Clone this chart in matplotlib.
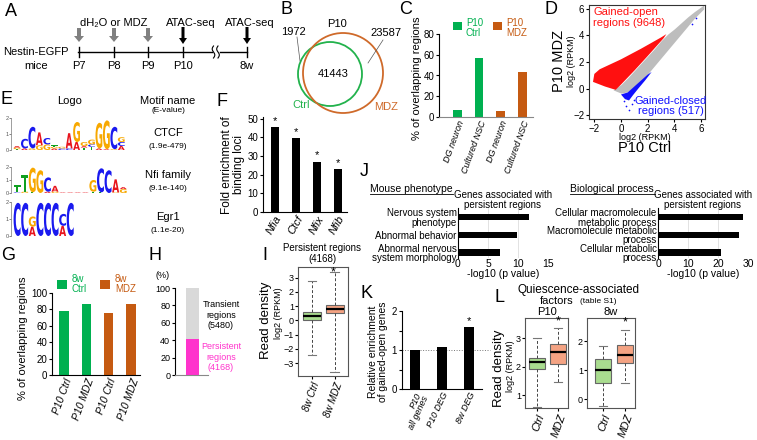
import numpy as np
import matplotlib
matplotlib.use('Agg')
import matplotlib.pyplot as plt
import matplotlib.transforms as mtransforms
from matplotlib.patches import Circle, FancyArrow, PathPatch
from matplotlib.textpath import TextPath
from matplotlib.font_manager import FontProperties

plt.rcParams['font.family'] = ['Liberation Sans', 'DejaVu Sans']
plt.rcParams['font.size'] = 7
plt.rcParams['axes.linewidth'] = 0.8
plt.rcParams['xtick.major.size'] = 2
plt.rcParams['ytick.major.size'] = 2
plt.rcParams['xtick.major.pad'] = 1.5
plt.rcParams['ytick.major.pad'] = 1.5
plt.rcParams['xtick.labelsize'] = 7
plt.rcParams['ytick.labelsize'] = 7

W, H = 757, 440
GREEN = '#00b050'
ORANGE = '#c55a11'
VENN_GREEN = '#22b24c'
VENN_ORANGE = '#cf6a2a'
BOX_GREEN = '#a9dc8f'
BOX_SALMON = '#f4a383'
MAGENTA = '#ff33cc'
LOGO_COLORS = {'A': '#e8141d', 'C': '#1a1aef', 'G': '#f7a800', 'T': '#10a020'}

# ---- data ----
timeline_days = ['P7', 'P8', 'P9', 'P10']

venn_ctrl_only = '1972'
venn_shared = '41443'
venn_mdz_only = '23587'

c_labels = ['DG neuron', 'Cultured NSC', 'DG neuron', 'Cultured NSC']
c_values = [7, 57, 6, 43]

# outlines of the point clouds in D (log2 RPKM)
d_grey_x = [-0.6, 0, 0.5, 1, 1.5, 2, 2.5, 3, 3.5, 4, 4.5, 5, 5.5, 6.2]
d_grey_lo = [-0.1, -0.35, -0.25, 0.15, 0.6, 1.1, 1.7, 2.3, 2.9, 3.5, 4.1, 4.7, 5.3, 6.0]
d_grey_hi = [-0.1, 0.3, 0.8, 1.35, 1.9, 2.45, 3.0, 3.6, 4.1, 4.5, 4.95, 5.4, 5.8, 6.3]
d_red_x = [-2.1, -2.0, -1.6, 0.0, 1.5, 3.0, 3.4, 3.2, 2.0, 1.0, 0.0, -0.4, -1.2]
d_red_y = [0.5, 1.1, 1.45, 2.2, 3.0, 3.85, 4.1, 3.8, 2.45, 1.35, 0.3, -0.1, 0.15]
d_blue_x = [0.0, 0.5, 1.0, 1.5, 2.0, 2.3, 1.8, 1.3, 0.9, 0.6, 0.3]
d_blue_y = [-0.45, -0.3, 0.15, 0.6, 1.05, 1.25, 0.6, 0.0, -0.5, -0.9, -0.8]
d_blue_pts_x = [0.4, 0.6, 0.25, 1.0, 0.8, 5.3, 5.6]
d_blue_pts_y = [-1.3, -1.6, -0.95, -0.9, -1.2, 4.9, 5.3]

motif_names = ['CTCF', 'Nfi family', 'Egr1']
motif_evalues = ['(1.9e-479)', '(9.1e-140)', '(1.1e-20)']
logo_ctcf = [
    [('T', 0.05), ('G', 0.1), ('A', 0.1)],
    [('A', 0.1), ('C', 0.6)],
    [('G', 0.1), ('C', 1.35)],
    [('G', 0.3), ('A', 0.8)],
    [('G', 0.35), ('C', 0.4)],
    [('A', 0.1), ('G', 0.1), ('T', 0.1)],
    [('C', 0.1), ('G', 0.1)],
    [('C', 0.1), ('A', 0.95)],
    [('A', 0.5), ('G', 1.25)],
    [('T', 0.15), ('A', 0.1), ('G', 0.25)],
    [('T', 0.2), ('C', 0.15), ('G', 0.3)],
    [('A', 0.1), ('G', 1.6)],
    [('A', 0.05), ('G', 1.8)],
    [('G', 0.05), ('C', 1.4)],
    [('A', 0.25), ('C', 0.25), ('G', 0.3)],
]
logo_nfi = [
    [('C', 0.05), ('T', 0.55)],
    [('G', 0.1), ('T', 1.3)],
    [('T', 0.05), ('G', 1.9)],
    [('G', 1.75)],
    [('A', 0.1), ('C', 1.1)],
    [('G', 0.1), ('A', 0.45)],
    [('A', 0.04)],
    [('A', 0.04)],
    [('A', 0.04)],
    [('A', 0.04)],
    [('T', 0.1), ('G', 0.9)],
    [('T', 0.05), ('C', 1.85)],
    [('C', 1.75)],
    [('G', 0.05), ('A', 1.0)],
    [('G', 0.3), ('A', 0.15)],
]
logo_egr1 = [
    [('C', 1.95)],
    [('C', 1.95)],
    [('A', 0.55), ('G', 0.6)],
    [('C', 1.95)],
    [('C', 1.95)],
    [('C', 1.95)],
    [('A', 0.6), ('C', 0.7)],
    [('C', 1.95)],
]

f_genes = ['Nfia', 'Ctcf', 'Nfix', 'Nfib']
f_values = [45.5, 39.5, 27, 23]

g_labels = ['P10 Ctrl', 'P10 MDZ', 'P10 Ctrl', 'P10 MDZ']
g_values = [78, 86, 76, 86]

h_persistent_pct = 41
h_transient_pct = 59

# box stats: whislo, q1, med, q3, whishi
i_labels = ['8w Ctrl', '8w MDZ']
i_ctrl = [-2.4, 0.0, 0.3, 0.6, 2.75]
i_mdz = [-3.6, 0.55, 0.8, 1.05, 3.4]

j1_terms = ['Nervous system\nphenotype', 'Abnormal behavior', 'Abnormal nervous\nsystem morphology']
j1_values = [11.8, 9.9, 7.0]
j2_terms = ['Cellular macromolecule\nmetabolic process', 'Macromolecule metabolic\nprocess',
            'Cellular metabolic\nprocess']
j2_values = [28.5, 27.0, 21.0]

k_labels = ['P10\nall genes', 'P10 DEG', '8w DEG']
k_values = [1.0, 1.08, 1.58]

l_labels = ['Ctrl', 'MDZ']
l_p10_ctrl = [0.6, 1.9, 2.15, 2.3, 3.0]
l_p10_mdz = [1.45, 2.1, 2.5, 2.8, 3.35]
l_8w_ctrl = [-0.22, 0.55, 1.0, 1.38, 1.85]
l_8w_mdz = [0.57, 1.25, 1.52, 1.88, 2.4]

fig = plt.figure(figsize=(W / 100, H / 100), dpi=100)


def px_axes(x0, y0, x1, y1):
    ax = fig.add_axes([x0 / W, 1 - y1 / H, (x1 - x0) / W, (y1 - y0) / H])
    ax.patch.set_visible(False)
    return ax


def lb_spines(ax):
    ax.spines['top'].set_visible(False)
    ax.spines['right'].set_visible(False)


def box_stats(vals, label):
    lo, q1, med, q3, hi = vals
    return dict(whislo=lo, q1=q1, med=med, q3=q3, whishi=hi, label=label)


def draw_boxes(ax, stats, pos, width):
    res = ax.bxp(stats, positions=pos, widths=width, patch_artist=True, showfliers=False,
                 boxprops=dict(edgecolor='#666666', linewidth=0.8),
                 whiskerprops=dict(color='#444444', linestyle=(0, (3, 2)), linewidth=0.7),
                 capprops=dict(color='#777777', linewidth=0.8),
                 medianprops=dict(color='black', linewidth=1.6))
    for patch, col in zip(res['boxes'], [BOX_GREEN, BOX_SALMON]):
        patch.set_facecolor(col)
    for sp in ax.spines.values():
        sp.set_color('#555555')
    ax.tick_params(axis='y', labelsize=6.5, pad=1)


logo_font = FontProperties(family='DejaVu Sans', weight='bold')


def draw_logo(ax, columns):
    for i, col in enumerate(columns):
        y = 0
        for letter, h in col:
            tp = TextPath((0, 0), letter, size=1, prop=logo_font)
            bb = tp.get_extents()
            tr = (mtransforms.Affine2D().translate(-bb.x0, -bb.y0)
                  .scale(0.92 / bb.width, h / bb.height).translate(i + 0.04, y))
            ax.add_patch(PathPatch(tr.transform_path(tp), fc=LOGO_COLORS[letter], ec='none'))
            y += h
    ax.set_xlim(-0.3, len(columns))
    ax.set_ylim(0, 2)
    for s in ['top', 'right', 'bottom']:
        ax.spines[s].set_visible(False)
    ax.spines['left'].set_linewidth(0.5)
    ax.spines['left'].set_color('#777777')
    ax.set_xticks([])
    ax.set_yticks([0, 1, 2])
    ax.tick_params(axis='y', labelsize=4, length=1.2, width=0.5, pad=0.5, colors='#555555')


# ---- C ----
axC = px_axes(439, 34, 533, 117)
axC.bar(range(4), c_values, width=0.4, color=[GREEN, GREEN, ORANGE, ORANGE])
axC.set_xlim(-0.85, 3.5)
axC.set_ylim(0, 80)
axC.set_yticks([0, 20, 40, 60, 80])
axC.set_xticks(range(4))
axC.set_xticklabels(c_labels, rotation=70, ha='right', rotation_mode='anchor', style='italic', fontsize=6.5)
lb_spines(axC)
axC.spines['bottom'].set_color('#888888')
axC.tick_params(axis='x', length=0)

# ---- D ----
axD = px_axes(589, 5, 705, 119)
axD.fill_between(d_grey_x, d_grey_lo, d_grey_hi, color='#bdbdbd', lw=0)
axD.fill(d_red_x, d_red_y, color='#ff1010', lw=0)
axD.fill(d_blue_x, d_blue_y, color='#1010ff', lw=0)
axD.scatter(d_blue_pts_x, d_blue_pts_y, s=1.5, color='#1010ff', lw=0)
axD.set_xlim(-2.4, 6.3)
axD.set_ylim(-2.3, 6.3)
axD.set_xticks([-2, 0, 2, 4, 6])
axD.set_yticks([-2, 0, 2, 4, 6])
for sp in axD.spines.values():
    sp.set_color('#333333')

# ---- E logos ----
draw_logo(px_axes(11, 118, 125, 150), logo_ctcf)
draw_logo(px_axes(11, 167, 127, 193), logo_nfi)
draw_logo(px_axes(11, 202, 74, 236), logo_egr1)

# ---- F ----
axF = px_axes(263, 117, 347, 212)
axF.bar(range(4), f_values, width=0.4, color='black')
for i, v in enumerate(f_values):
    axF.text(i, v + 0.8, '*', ha='center', va='bottom', fontsize=8)
axF.set_xlim(-0.57, 3.43)
axF.set_ylim(0, 51)
axF.set_yticks([0, 10, 20, 30, 40, 50])
axF.set_xticks(range(4))
axF.set_xticklabels(f_genes, rotation=60, ha='right', rotation_mode='anchor', style='italic', fontsize=8)
axF.tick_params(axis='x', length=0)
lb_spines(axF)

# ---- G ----
axG = px_axes(52, 293, 140, 375)
axG.bar(range(4), g_values, width=0.42, color=[GREEN, GREEN, ORANGE, ORANGE])
axG.set_xlim(-0.54, 3.4)
axG.set_ylim(0, 100)
axG.set_yticks([0, 20, 40, 60, 80, 100])
axG.set_xticks(range(4))
axG.set_xticklabels(g_labels, rotation=70, ha='right', rotation_mode='anchor', style='italic', fontsize=7.5)
axG.tick_params(axis='x', length=0)
lb_spines(axG)

# ---- H ----
axH = px_axes(175, 288, 208, 375)
axH.bar([0], [h_persistent_pct], width=1, color=MAGENTA)
axH.bar([0], [h_transient_pct], bottom=[h_persistent_pct], width=1, color='#d9d9d9')
axH.set_xlim(-1.35, 1.2)
axH.set_ylim(0, 100)
axH.set_yticks([0, 20, 40, 60, 80, 100])
axH.set_xticks([])
axH.tick_params(axis='y', labelsize=6.5)
lb_spines(axH)
axH.spines['bottom'].set_color('#888888')

# ---- I ----
axI = px_axes(298, 267, 348, 376)
draw_boxes(axI, [box_stats(i_ctrl, i_labels[0]), box_stats(i_mdz, i_labels[1])], [1, 2], 0.78)
axI.set_xlim(0.39, 2.57)
axI.set_ylim(-3.9, 3.75)
axI.set_yticks([-3, -2, -1, 0, 1, 2, 3])
axI.set_xticklabels(i_labels, rotation=70, ha='right', rotation_mode='anchor', style='italic', fontsize=7)

# ---- J ----
for box, terms, vals, xmax, xt in [((458, 208, 548, 258), j1_terms, j1_values, 15, [0, 5, 10, 15]),
                                   ((658, 208, 748, 258), j2_terms, j2_values, 30, [0, 10, 20, 30])]:
    axJ = px_axes(*box)
    axJ.barh(range(3), vals, height=0.36, color='black', zorder=3)
    axJ.set_xlim(0, xmax)
    axJ.set_ylim(2.3, -0.5)
    axJ.set_xticks(xt)
    axJ.set_yticks(range(3))
    axJ.set_yticklabels(terms, fontsize=7, linespacing=0.95)
    axJ.grid(axis='x', color='#dddddd', lw=0.6)
    axJ.set_axisbelow(True)
    for s in ['top', 'right', 'bottom']:
        axJ.spines[s].set_visible(False)
    axJ.tick_params(axis='y', length=0, pad=1)
    axJ.tick_params(axis='x', length=0, labelsize=7.5, pad=0.5)

# ---- K ----
axK = px_axes(402, 311, 482, 389)
axK.bar(range(3), k_values, width=0.34, color='black', zorder=3)
axK.axhline(1, color='#777777', lw=0.7, ls=':', zorder=2, clip_on=False, xmax=1.1)
axK.text(2, k_values[2] + 0.04, '*', ha='center', va='bottom', fontsize=8)
axK.set_xlim(-0.48, 2.48)
axK.set_ylim(0, 2)
axK.set_yticks([0, 0.5, 1, 1.5, 2])
axK.set_yticklabels(['0', '', '1', '', '2'])
axK.set_xticks(range(3))
axK.set_xticklabels(k_labels, rotation=65, ha='right', rotation_mode='anchor', style='italic',
                    fontsize=6.5, linespacing=0.9)
axK.tick_params(axis='x', length=0)
lb_spines(axK)

# ---- L ----
axL1 = px_axes(525, 318, 568, 408)
draw_boxes(axL1, [box_stats(l_p10_ctrl, 'Ctrl'), box_stats(l_p10_mdz, 'MDZ')], [1, 2], 0.75)
axL1.set_xlim(0.43, 2.48)
axL1.set_ylim(0.55, 3.7)
axL1.set_yticks([1, 2, 3])
axL1.set_xticklabels(l_labels, rotation=70, ha='right', rotation_mode='anchor', style='italic', fontsize=8)
axL1.text(2, l_p10_mdz[4] + 0.03, '*', ha='center', va='bottom', fontsize=9)

axL2 = px_axes(587, 318, 635, 408)
draw_boxes(axL2, [box_stats(l_8w_ctrl, 'Ctrl'), box_stats(l_8w_mdz, 'MDZ')], [1, 2], 0.72)
axL2.set_xlim(0.27, 2.45)
axL2.set_ylim(-0.3, 2.8)
axL2.set_yticks([0, 1, 2])
axL2.set_xticklabels(l_labels, rotation=70, ha='right', rotation_mode='anchor', style='italic', fontsize=8)
axL2.text(2, l_8w_mdz[4] + 0.03, '*', ha='center', va='bottom', fontsize=9)

# ---- overlay in pixel units: labels, timeline, Venn ----
ov = fig.add_axes([0, 0, 1, 1])
ov.set_xlim(0, W)
ov.set_ylim(H, 0)
ov.axis('off')
ov.patch.set_visible(False)

for letter, x, y in [('A', 11, 11), ('B', 286, 10), ('C', 406, 10), ('D', 551, 10), ('E', 7, 100),
                     ('F', 222, 101), ('G', 8, 255), ('H', 155, 255), ('I', 265, 256),
                     ('J', 364, 172), ('K', 366, 293), ('L', 499, 297)]:
    ov.text(x, y, letter, fontsize=13, ha='center', va='center')

# A timeline
tick_x = [79, 114, 148, 183]
ov.plot([78, 212], [52, 52], color='black', lw=1)
ov.plot([220, 247], [52, 52], color='black', lw=1)
t = np.linspace(-1, 1, 30)
for bx in [213.5, 218]:
    ov.plot(bx + 1.3 * np.sin(t * np.pi), 52 + 6 * t, color='black', lw=0.8)
for x, lab in zip(tick_x + [247], timeline_days + ['8w']):
    ov.plot([x, x], [47, 57], color='black', lw=1)
    ov.text(x, 66, lab, fontsize=8, ha='center', va='center')
for x in tick_x[:3]:
    ov.add_patch(FancyArrow(x, 28, 0, 14, width=4, head_width=10, head_length=6,
                            length_includes_head=True, color='#808080', lw=0))
for x in [183, 247]:
    ov.add_patch(FancyArrow(x, 27, 0, 17, width=3, head_width=8, head_length=6,
                            length_includes_head=True, color='black', lw=0))
ov.text(114, 23, 'dH\u2082O or MDZ', fontsize=8, ha='center', va='center')
ov.text(191, 23, 'ATAC-seq', fontsize=8, ha='center', va='center')
ov.text(250, 23, 'ATAC-seq', fontsize=8, ha='center', va='center')
ov.text(36, 52, 'Nestin-EGFP', fontsize=8, ha='center', va='center')
ov.text(36, 66, 'mice', fontsize=8, ha='center', va='center')

# B Venn
ov.add_patch(Circle((330, 74), 32, fill=False, ec=VENN_GREEN, lw=1.3))
ov.add_patch(Circle((343, 73), 40, fill=False, ec=VENN_ORANGE, lw=1.3))
ov.text(337, 24, 'P10', fontsize=8, ha='center', va='center')
ov.text(293, 32, venn_ctrl_only, fontsize=8, ha='center', va='center')
ov.text(333, 74, venn_shared, fontsize=8, ha='center', va='center')
ov.text(386, 33, venn_mdz_only, fontsize=8, ha='center', va='center')
ov.text(301, 105, 'Ctrl', fontsize=8, ha='center', va='center', color=VENN_GREEN)
ov.text(386, 107, 'MDZ', fontsize=8, ha='center', va='center', color=VENN_ORANGE)
ov.plot([297, 300], [37, 61], color='#555555', lw=0.5)
ov.plot([383, 368], [40, 63], color='#555555', lw=0.5)

# C legend and label
ov.add_patch(plt.Rectangle((453, 22), 9, 8, color=GREEN, lw=0))
ov.add_patch(plt.Rectangle((493, 22), 9, 8, color=ORANGE, lw=0))
ov.text(466, 28, 'P10\nCtrl', fontsize=7, color=GREEN, ha='left', va='center', linespacing=1.1)
ov.text(506, 28, 'P10\nMDZ', fontsize=7, color=ORANGE, ha='left', va='center', linespacing=1.1)
ov.text(417, 78, '% of overlapping regions', fontsize=8, rotation=90, ha='center', va='center')

# D labels
ov.text(593, 7, 'Gained-open\nregions (9648)', fontsize=8, color='#ff1010', ha='left', va='top',
        linespacing=1.1)
ov.text(671, 106, 'Gained-closed\nregions (517)', fontsize=8, color='#1010ff', ha='center', va='center',
        linespacing=1.1)
ov.text(559, 61, 'P10 MDZ', fontsize=10.5, rotation=90, ha='center', va='center')
ov.text(572, 61, 'log2 (RPKM)', fontsize=6.5, rotation=90, ha='center', va='center')
ov.text(645, 137, 'log2 (RPKM)', fontsize=6.5, ha='center', va='center')
ov.text(645, 148, 'P10 Ctrl', fontsize=10.5, ha='center', va='center')

# E headings
ov.text(70, 101, 'Logo', fontsize=8, ha='center', va='center')
ov.text(168, 101, 'Motif name', fontsize=8, ha='center', va='center')
ov.text(168, 111, '(E-value)', fontsize=6, ha='center', va='center')
for name, ev, y in zip(motif_names, motif_evalues, [133, 175, 217]):
    ov.text(168, y, name, fontsize=8, ha='center', va='center')
    ov.text(168, y + 13, ev, fontsize=6, ha='center', va='center')

# F label
ov.text(233, 165, 'Fold enrichment of\nbinding loci', fontsize=8.5, rotation=90, ha='center',
        va='center', linespacing=1.0)

# G legend and label
ov.add_patch(plt.Rectangle((57, 280), 10, 9, color=GREEN, lw=0))
ov.add_patch(plt.Rectangle((100, 280), 10, 9, color=ORANGE, lw=0))
ov.text(72, 284, '8w\nCtrl', fontsize=7, color=GREEN, ha='left', va='center', linespacing=1.1)
ov.text(115, 284, '8w\nMDZ', fontsize=7, color=ORANGE, ha='left', va='center', linespacing=1.1)
ov.text(23, 338, '% of overlapping regions', fontsize=8, rotation=90, ha='center', va='center')

# H text
ov.text(163, 276, '(%)', fontsize=6.5, ha='center', va='center')
ov.text(221, 315, 'Transient\nregions\n(5480)', fontsize=6.5, ha='center', va='center', linespacing=1.15)
ov.text(221, 357, 'Persistent\nregions\n(4168)', fontsize=6.5, ha='center', va='center',
        linespacing=1.15, color=MAGENTA)

# I text
ov.text(322, 248, 'Persistent regions', fontsize=7, ha='center', va='center')
ov.text(322, 258.5, '(4168)', fontsize=7, ha='center', va='center')
ov.text(333, 272, '*', fontsize=9, ha='center', va='center')
ov.text(266, 320, 'Read density', fontsize=9.5, rotation=90, ha='center', va='center')
ov.text(278.5, 313, 'log2 (RPKM)', fontsize=6.5, rotation=90, ha='center', va='center')

# J text
ov.text(411, 189, 'Mouse phenotype', fontsize=7.5, ha='center', va='center')
ov.plot([370, 453], [194, 194], color='black', lw=0.6)
ov.text(612, 189, 'Biological process', fontsize=7.5, ha='center', va='center')
ov.plot([570, 655], [194, 194], color='black', lw=0.6)
for cx in [503, 703]:
    ov.text(cx, 200, 'Genes associated with\npersistent regions', fontsize=7, ha='center',
            va='center', linespacing=1.0)
    ov.text(cx, 274, '-log10 (p value)', fontsize=7.5, ha='center', va='center')

# K label
ov.text(378, 352, 'Relative enrichment\nof gained-open genes', fontsize=7.5, rotation=90,
        ha='center', va='center', linespacing=1.0)

# L text
ov.text(579, 290, 'Quiescence-associated', fontsize=8.5, ha='center', va='center')
ov.text(557, 301.5, 'factors', fontsize=8, ha='center', va='center')
ov.text(598, 301.5, '(table S1)', fontsize=6, ha='center', va='center')
ov.text(547, 312, 'P10', fontsize=8, ha='center', va='center')
ov.text(611, 312, '8w', fontsize=8, ha='center', va='center')
ov.text(499, 368, 'Read density', fontsize=9.5, rotation=90, ha='center', va='center')
ov.text(510.5, 366, 'log2 (RPKM)', fontsize=6.5, rotation=90, ha='center', va='center')

fig.savefig('out.png', dpi=100)
